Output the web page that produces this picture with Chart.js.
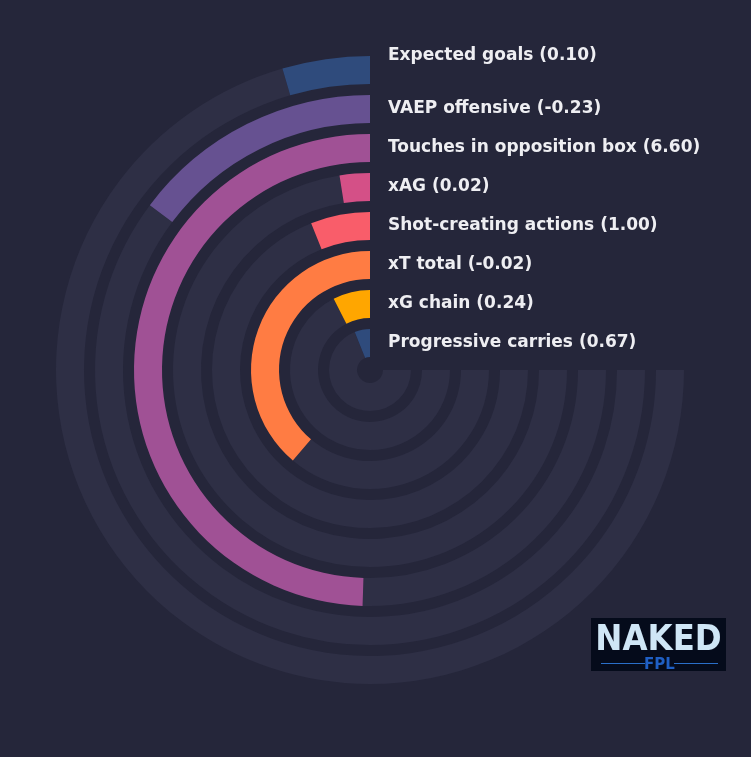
<!DOCTYPE html>
<html>
<head>
<meta charset="utf-8">
<script src="https://cdn.jsdelivr.net/npm/chart.js@4"></script>
<style>
  html, body { margin: 0; padding: 0; background: #25263a; }
  canvas { display: block; }
</style>
</head>
<body>
<canvas id="radial" width="751" height="757"></canvas>
<script>
// metrics, outermost ring first
const metrics = [
  "Expected goals",
  "VAEP offensive",
  "Touches in opposition box",
  "xAG",
  "Shot-creating actions",
  "xT total",
  "xG chain",
  "Progressive carries",
];
const rawValues = ["0.10", "-0.23", "6.60", "0.02", "1.00", "-0.02", "0.24", "0.67"];
// share of the 270 degree track that each bar fills (percent)
const percentiles = [6.0, 19.7, 66.0, 3.3, 8.1, 51.7, 10.0, 8.1];
const barColors = [
  "#2f4b7c",
  "#665191",
  "#a05195",
  "#d45087",
  "#f95d6a",
  "#ff7c43",
  "#ffa600",
  "#2f4b7c",
];
const trackColor = "#2e2f45";

// one ring per metric, with a transparent spacer ring in between
const datasets = [];
metrics.forEach((m, i) => {
  if (i > 0) {
    datasets.push({
      data: [100],
      backgroundColor: ["rgba(0,0,0,0)"],
      borderWidth: 0,
      weight: 11,
      spacer: true,
    });
  }
  datasets.push({
    label: m,
    data: [100 - percentiles[i], percentiles[i]],
    backgroundColor: [trackColor, barColors[i]],
    borderWidth: 0,
    weight: 28,
    metricIndex: i,
  });
});

// text next to each ring
const ringLabels = {
  id: "ringLabels",
  afterDatasetsDraw(chart) {
    const ctx = chart.ctx;
    ctx.save();
    ctx.font = "bold 17px 'DejaVu Sans'";
    ctx.fillStyle = "#eeeef2";
    ctx.textBaseline = "middle";
    ctx.textAlign = "left";
    chart.data.datasets.forEach((ds, di) => {
      if (ds.spacer) return;
      const arc = chart.getDatasetMeta(di).data[1];
      let y = arc.y - (arc.innerRadius + arc.outerRadius) / 2;
      if (ds.metricIndex === 0) y = arc.y - arc.outerRadius;
      ctx.fillText(
        metrics[ds.metricIndex] + " (" + rawValues[ds.metricIndex] + ")",
        arc.x + 18,
        y
      );
    });
    ctx.restore();
  },
};

// watermark bottom right
const logo = {
  id: "logo",
  afterDraw(chart) {
    const ctx = chart.ctx;
    const x = 591, y = 618, w = 135, h = 53;
    ctx.save();
    ctx.fillStyle = "#050b1b";
    ctx.fillRect(x, y, w, h);
    ctx.textAlign = "center";
    ctx.textBaseline = "alphabetic";
    ctx.save();
    ctx.translate(x + w / 2, y + 32);
    ctx.scale(0.9, 1);
    ctx.font = "bold 36px 'DejaVu Sans'";
    ctx.fillStyle = "#cfe6f6";
    ctx.fillText("NAKED", 0, 0);
    ctx.restore();
    ctx.strokeStyle = "#2a6fc9";
    ctx.lineWidth = 1;
    ctx.beginPath();
    ctx.moveTo(x + 10, y + 45.5);
    ctx.lineTo(x + 54, y + 45.5);
    ctx.moveTo(x + 83, y + 45.5);
    ctx.lineTo(x + 127, y + 45.5);
    ctx.stroke();
    ctx.font = "bold 15px 'DejaVu Sans'";
    ctx.fillStyle = "#1f5fc4";
    ctx.fillText("FPL", x + w / 2 + 1, y + 51);
    ctx.restore();
  },
};

const radial = document.getElementById("radial").getContext("2d");

let myChartRadial = new Chart(radial, {
  type: "doughnut",
  data: {
    labels: ["rest", "value"],
    datasets: datasets,
  },
  options: {
    responsive: false,
    animation: false,
    rotation: 90,
    circumference: 270,
    radius: 314,
    cutout: (13 / 314) * 100 + "%",
    layout: {
      padding: { left: 0, top: 0, right: 11, bottom: 17 },
    },
    plugins: {
      legend: { display: false },
      tooltip: { enabled: false },
    },
  },
  plugins: [ringLabels, logo],
});
</script>
</body>
</html>
